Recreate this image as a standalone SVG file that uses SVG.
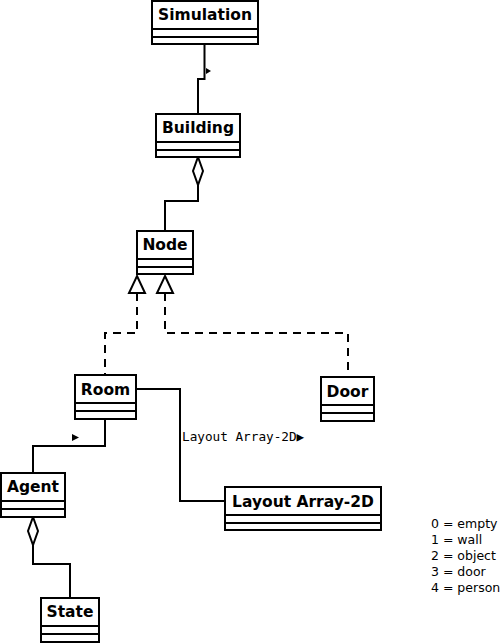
<svg xmlns="http://www.w3.org/2000/svg" width="503" height="644" viewBox="0 0 503 644">
<style>
.box{fill:#fff;stroke:#000;stroke-width:2}
.div{stroke:#000;stroke-width:2}
.t{font-family:"DejaVu Sans",sans-serif;font-weight:bold;font-size:15.5px;text-anchor:middle;fill:#000}
.ln{fill:none;stroke:#000;stroke-width:2}
.dash{fill:none;stroke:#000;stroke-width:2;stroke-dasharray:8,6}
.lbl{font-family:"DejaVu Sans Mono",monospace;font-size:12.7px;fill:#000}
.leg{font-family:"DejaVu Sans",sans-serif;font-size:12.5px;fill:#000}
</style>
<rect width="503" height="644" fill="#fff"/>
<g id="connectors">
<path class="ln" d="M204.5,44 V79 H198 V114"/>
<path d="M206,68 L211,71 L206,74 Z" fill="#000"/>
<path class="ln" d="M198,185 V201 H165 V231"/>
<path d="M198,157 L203,171 L198,185 L193,171 Z" fill="#fff" stroke="#000" stroke-width="2"/>
<path class="dash" d="M137,293 V333 H105 V375"/>
<path class="dash" d="M165,293 V333 H348 V377"/>
<path d="M137,276 L145,293 L129,293 Z" fill="#fff" stroke="#000" stroke-width="2"/>
<path d="M165,276 L173,293 L157,293 Z" fill="#fff" stroke="#000" stroke-width="2"/>
<path class="ln" d="M136,389 H180 V501 H225"/>
<text class="lbl" x="182" y="441">Layout Array-2D▶</text>
<path class="ln" d="M105,419 V446 H33 V473"/>
<path d="M72,434 L79,437.5 L72,441 Z" fill="#000"/>
<path class="ln" d="M33,545 V564 H70 V598"/>
<path d="M33,517 L38,531 L33,545 L28,531 Z" fill="#fff" stroke="#000" stroke-width="2"/>
</g>
<g id="simulation">
<rect class="box" x="152" y="1" width="106" height="43"/>
<line class="div" x1="152" y1="29" x2="258" y2="29"/><line class="div" x1="152" y1="37" x2="258" y2="37"/>
<text class="t" x="205" y="20">Simulation</text>
</g>
<g id="building">
<rect class="box" x="156" y="114" width="84" height="43"/>
<line class="div" x1="156" y1="142" x2="240" y2="142"/><line class="div" x1="156" y1="150" x2="240" y2="150"/>
<text class="t" x="198" y="133">Building</text>
</g>
<g id="node">
<rect class="box" x="137" y="231" width="56" height="43"/>
<line class="div" x1="137" y1="259" x2="193" y2="259"/><line class="div" x1="137" y1="267" x2="193" y2="267"/>
<text class="t" x="165" y="250">Node</text>
</g>
<g id="room">
<rect class="box" x="75" y="375" width="61" height="44"/>
<line class="div" x1="75" y1="403" x2="136" y2="403"/><line class="div" x1="75" y1="411" x2="136" y2="411"/>
<text class="t" x="105.5" y="395">Room</text>
</g>
<g id="door">
<rect class="box" x="321" y="377" width="53" height="44"/>
<line class="div" x1="321" y1="405" x2="374" y2="405"/><line class="div" x1="321" y1="413" x2="374" y2="413"/>
<text class="t" x="347.5" y="397">Door</text>
</g>
<g id="agent">
<rect class="box" x="1" y="473" width="64" height="44"/>
<line class="div" x1="1" y1="501" x2="65" y2="501"/><line class="div" x1="1" y1="509" x2="65" y2="509"/>
<text class="t" x="33" y="492">Agent</text>
</g>
<g id="layout">
<rect class="box" x="225" y="487" width="156" height="43"/>
<line class="div" x1="225" y1="515" x2="381" y2="515"/><line class="div" x1="225" y1="523" x2="381" y2="523"/>
<text class="t" x="303" y="507">Layout Array-2D</text>
</g>
<g id="state">
<rect class="box" x="41" y="598" width="58" height="44"/>
<line class="div" x1="41" y1="626" x2="99" y2="626"/><line class="div" x1="41" y1="634" x2="99" y2="634"/>
<text class="t" x="70" y="617">State</text>
</g>
<g id="legend">
<text class="leg" x="431" y="528">0 = empty</text>
<text class="leg" x="431" y="544">1 = wall</text>
<text class="leg" x="431" y="560">2 = object</text>
<text class="leg" x="431" y="576">3 = door</text>
<text class="leg" x="431" y="592">4 = person</text>
</g>
</svg>
